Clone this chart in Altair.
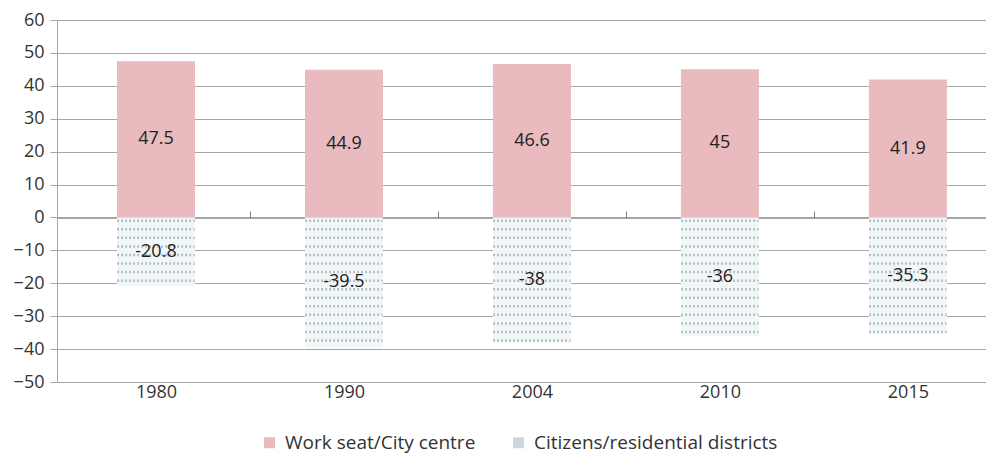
import altair as alt
import pandas as pd

years = ["1980", "1990", "2004", "2010", "2015"]
work_seat = [47.5, 44.9, 46.6, 45, 41.9]
citizens = [-20.8, -39.5, -38, -36, -35.3]
series_names = ["Work seat/City centre", "Citizens/residential districts"]

rows = []
for i, (y, w, c) in enumerate(zip(years, work_seat, citizens)):
    rows.append({"year": y, "idx": i, "series": series_names[0], "value": w, "label": f"{w:g}"})
    rows.append({"year": y, "idx": i, "series": series_names[1], "value": c, "label": f"{c:g}"})
df = pd.DataFrame(rows)

FONT = "Open Sans"
GRID = "#a6a6a6"
HALF = 0.205  # half bar width in category units

year_expr = "[" + ",".join(f"'{y}'" for y in years) + "][datum.value]"
xscale = alt.Scale(domain=[-0.5, 4.389], nice=False, zero=False)
yscale = alt.Scale(domain=[-50, 60], nice=False, zero=False)

yaxis = alt.Axis(title=None, values=list(range(-50, 61, 10)),
                 labelFontSize=18, labelFont=FONT, labelColor="#333333",
                 gridColor=GRID, gridWidth=1, domainColor=GRID,
                 tickColor=GRID, tickSize=7, labelPadding=6,
                 labelOverlap=False)

base = alt.Chart(df)

bars = base.mark_bar(size=78).encode(
    x=alt.X("idx:Q", scale=xscale,
            axis=alt.Axis(orient="bottom", title=None, values=list(range(len(years))),
                          labelExpr=year_expr, ticks=False, domain=False,
                          labelFontSize=18, labelFont=FONT, labelColor="#333333",
                          labelPadding=1, grid=False, labelOverlap=False)),
    y=alt.Y("value:Q", scale=yscale, stack=None, axis=yaxis),
    y2=alt.datum(0),
    color=alt.condition(
        "datum.value < 0",
        alt.value("#f3f6f7"),
        alt.Color("series:N", sort=series_names,
                  scale=alt.Scale(domain=series_names, range=["#e9bbbe", "#cdd8de"]),
                  legend=alt.Legend(title=None, orient="none", legendX=203, legendY=413,
                                    direction="horizontal", columns=2, symbolType="square",
                                    symbolSize=121, symbolStrokeWidth=0, labelLimit=0,
                                    labelFontSize=19, labelFont=FONT, labelColor="#333333",
                                    columnPadding=33, labelOffset=6)),
    ),
)

hatch = base.mark_rule(strokeWidth=2.5, strokeDash=[1.5, 2.5], color="#9fb2bd").encode(
    x=alt.X("x1:Q", scale=xscale, axis=None),
    x2="x2:Q",
    y=alt.Y("yrow:Q", scale=yscale, axis=yaxis),
).transform_filter("datum.value < 0").transform_calculate(
    rows="sequence(0, -datum.value - 1.2, 2.6)"
).transform_flatten(["rows"]).transform_calculate(
    yrow="-(datum.rows + 1.0)",
    x1=f"datum.idx - {HALF}",
    x2=f"datum.idx + {HALF}",
)

zero_axis = base.mark_bar(opacity=0).encode(
    x=alt.X("idx:Q", scale=xscale,
            axis=alt.Axis(orient="top", title=None, labels=False, offset=-198,
                          values=[0.5, 1.5, 2.5, 3.5],
                          domainColor=GRID, tickColor="#808080", tickSize=7, grid=False)),
    y=alt.Y("value:Q", scale=yscale, axis=yaxis),
)

text = base.mark_text(fontSize=18, font=FONT, color="#222222").encode(
    x=alt.X("idx:Q", scale=xscale, axis=None),
    y=alt.Y("mid:Q", scale=yscale, axis=yaxis),
    text="label:N",
).transform_calculate(mid="datum.value / 2")

chart = alt.layer(bars, hatch, zero_axis, text).properties(
    width=929, height=362,
    autosize=alt.AutoSizeParams(type="none"),
    padding={"left": 49, "top": 12, "right": 0, "bottom": 74},
).configure(background="white", view=alt.ViewConfig(stroke=None))

chart.save("out.html", embed_options={"renderer": "svg", "actions": False})
